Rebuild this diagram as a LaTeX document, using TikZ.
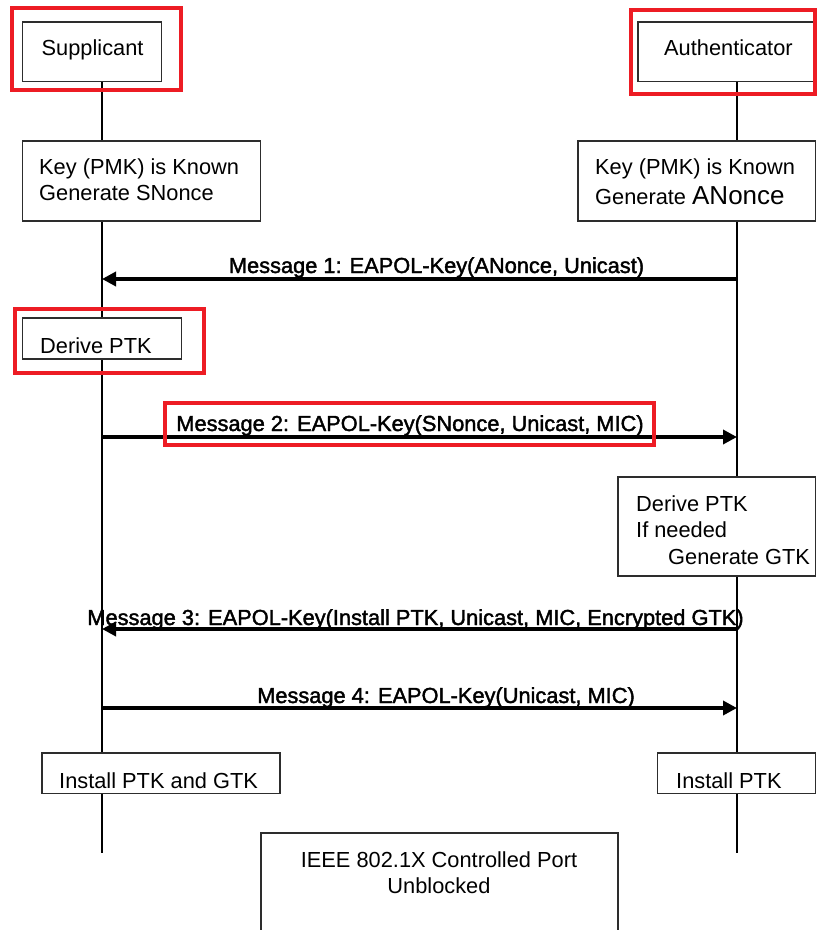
\documentclass[tikz,border=0pt]{standalone}
\usepackage{fontspec}
\setmainfont{Liberation Sans}
\newfontface\msgfont{Liberation Sans}[FakeBold=1.8]
\usetikzlibrary{arrows.meta}
\definecolor{hired}{RGB}{237,28,36}
\definecolor{boxgray}{RGB}{45,45,45}
\begin{document}
\begin{tikzpicture}[x=1pt,y=-1pt,
  box/.style={draw=boxgray, line width=1.8pt, fill=white, rectangle, inner sep=0pt, outer sep=0pt, anchor=north west},
  txt/.style={anchor=base west, inner sep=0pt, font=\fontsize{21.8pt}{26pt}\selectfont},
  ctxt/.style={anchor=base, inner sep=0pt, font=\fontsize{21.8pt}{26pt}\selectfont},
  msg/.style={anchor=base, inner sep=0pt, font=\msgfont\fontsize{21.8pt}{26pt}\selectfont},
  life/.style={line width=2.2pt, black},
  msgarrow/.style={line width=4pt, black, -{Triangle[length=14pt,width=14pt]}},
  hilite/.style={draw=hired, line width=4pt}]
\useasboundingbox (0,0) rectangle (817,930);

% lifelines
\coordinate (sTop) at (102,82);
\coordinate (sBot) at (102,853);
\coordinate (aTop) at (737,82);
\coordinate (aBot) at (737,853);
\draw[life] (sTop) -- (sBot);
\draw[life] (aTop) -- (aBot);

% boxes
\node[box, minimum width=139pt, minimum height=59.5pt] (sup) at (22.5,22) {};
\node[box, minimum width=177.5pt, minimum height=59.5pt] (aut) at (638,22) {};
\node[box, minimum width=238pt, minimum height=80pt] (keyL) at (22.5,141) {};
\node[box, minimum width=237.5pt, minimum height=80pt] (keyR) at (578,141) {};
\node[box, minimum width=159pt, minimum height=41pt] (derL) at (22.5,318) {};
\node[box, minimum width=197.5pt, minimum height=99pt] (derR) at (618,477) {};
\node[box, minimum width=238pt, minimum height=40.5pt] (insL) at (42,753) {};
\node[box, minimum width=158pt, minimum height=40.5pt] (insR) at (657.5,753) {};
\node[box, draw=none, minimum width=357pt, minimum height=100pt] (ieee) at (261,833) {};
\draw[draw=boxgray, line width=1.8pt] (ieee.south west) -- (ieee.north west) -- (ieee.north east) -- (ieee.south east);

% box texts
\node[txt] (tsup) at (41.5,55) {Supplicant};
\node[txt] (taut) at (664,55) {Authenticator};
\node[txt] (tkl1) at (39,174) {Key (PMK) is Known};
\node[txt] (tkl2) at (39,200) {Generate SNonce};
\node[txt] (tkr1) at (595,174) {Key (PMK) is Known};
\node[txt] (tkr2) at (595,204) {Generate {\fontsize{26pt}{30pt}\selectfont ANonce}};
\node[txt] (tdl) at (40,353) {Derive PTK};
\node[txt] (tdr1) at (636,511) {Derive PTK};
\node[txt] (tdr2) at (636,537) {If needed};
\node[txt] (tdr3) at (668,564) {Generate GTK};
\node[txt] (til) at (59,788) {Install PTK and GTK};
\node[txt] (tir) at (676,788) {Install PTK};
\node[ctxt] (tie1) at (439,867) {IEEE 802.1X Controlled Port};
\node[ctxt] (tie2) at (439,893) {Unblocked};

% messages
\coordinate (m1a) at (737,279);
\coordinate (m1b) at (102,279);
\coordinate (m2a) at (102,437);
\coordinate (m2b) at (737,437);
\coordinate (m3a) at (737,629);
\coordinate (m3b) at (102,629);
\coordinate (m4a) at (102,708);
\coordinate (m4b) at (737,708);
\draw[msgarrow] (m1a) -- (m1b);
\draw[msgarrow] (m2a) -- (m2b);
\draw[msgarrow] (m3a) -- (m3b);
\draw[msgarrow] (m4a) -- (m4b);
\node[msg] (l1) at (436.5,273) {Message 1: EAPOL-Key(ANonce, Unicast)};
\node[msg] (l2) at (410,431) {Message 2: EAPOL-Key(SNonce, Unicast, MIC)};
\node[msg] (l3) at (415.5,625) {Message 3: EAPOL-Key(Install PTK, Unicast, MIC, Encrypted GTK)};
\node[msg] (l4) at (446,703) {Message 4: EAPOL-Key(Unicast, MIC)};

% highlights
\draw[hilite] (12,8) rectangle (181,90);
\draw[hilite] (631,10) rectangle (815,94);
\draw[hilite] (15,309) rectangle (204,373);
\draw[hilite] (165,403) rectangle (654,445);
\end{tikzpicture}
\end{document}
